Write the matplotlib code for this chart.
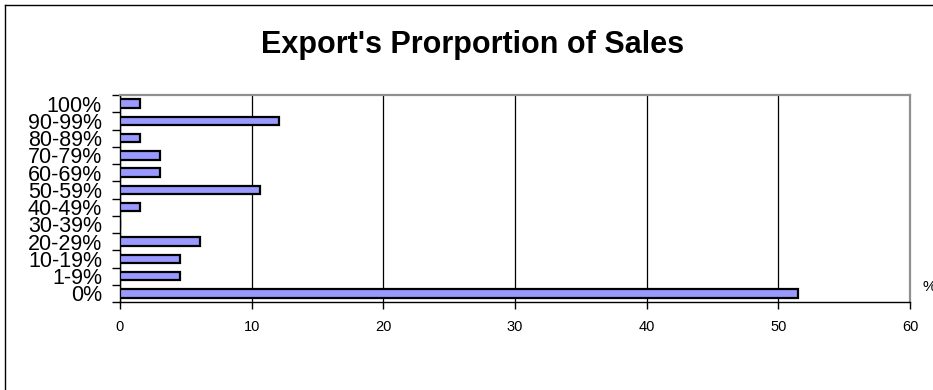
import matplotlib
matplotlib.use("Agg")
import matplotlib.pyplot as plt
from matplotlib.lines import Line2D
import numpy as np

plt.rcParams['font.family'] = ['Liberation Sans', 'DejaVu Sans']

categories = ["0%", "1-9%", "10-19%", "20-29%", "30-39%", "40-49%",
              "50-59%", "60-69%", "70-79%", "80-89%", "90-99%", "100%"]
share = [51.5, 4.55, 4.55, 6.06, 0.0, 1.52,
         10.6, 3.03, 3.03, 1.52, 12.1, 1.52]
xticks = [0, 10, 20, 30, 40, 50, 60]

fig = plt.figure(figsize=(9.33, 3.9), dpi=100)
ax = fig.add_axes([0.1286, 0.2256, 0.8467, 0.5308])

y = np.arange(len(categories))
ax.barh(y, share, height=0.5, color="#9999FF", edgecolor="black",
        linewidth=1.6, zorder=3)

ax.set_xlim(0, 60)
ax.set_ylim(-0.5, len(categories) - 0.5)
ax.set_xticks(xticks)
ax.set_xticklabels([str(t) for t in xticks], fontsize=10.5)
ax.set_yticks(y)
ax.set_yticklabels(categories, fontsize=15.5)
ax.set_yticks(np.arange(len(categories) + 1) - 0.5, minor=True)
ax.tick_params(axis="y", which="major", length=0, pad=13)
ax.tick_params(axis="y", which="minor", length=6, width=1, color="black")
ax.tick_params(axis="x", length=5, width=1, pad=8)

ax.grid(axis="x", color="black", linewidth=0.9, zorder=1)
for side in ("top", "right"):
    ax.spines[side].set_color("#909090")
    ax.spines[side].set_linewidth(1.6)
for side in ("left", "bottom"):
    ax.spines[side].set_color("black")
    ax.spines[side].set_linewidth(1.0)

fig.text(0.506, 0.885, "Export's Prorportion of Sales", ha="center",
         va="center", fontsize=22, fontweight="bold")
fig.text(0.989, 0.265, "%", ha="left", va="center", fontsize=11)

# outer frame (top and left edges)
fig.add_artist(Line2D([5 / 933, 1.0], [1 - 5 / 390, 1 - 5 / 390],
                      color="black", linewidth=1.0))
fig.add_artist(Line2D([5 / 933, 5 / 933], [0.0, 1 - 5 / 390],
                      color="black", linewidth=1.0))

fig.savefig("out.png", dpi=100)
